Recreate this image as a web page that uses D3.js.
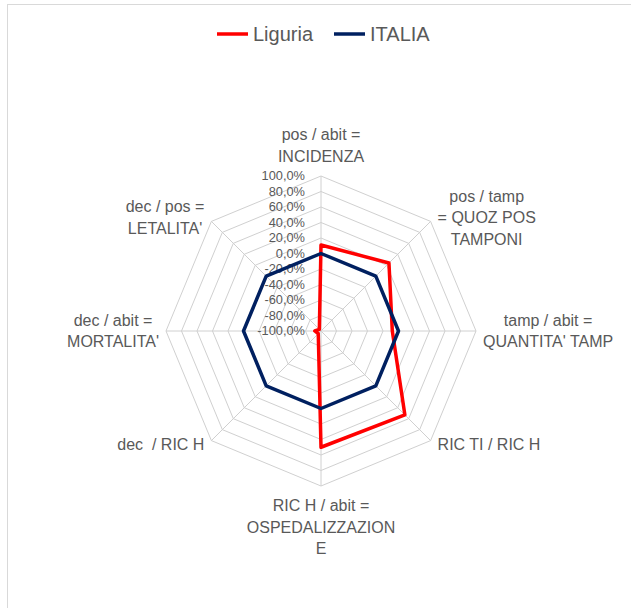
<!DOCTYPE html>
<html>
<head>
<meta charset="utf-8">
<script src="https://cdn.jsdelivr.net/npm/d3@7"></script>
<style>
  html, body { margin: 0; padding: 0; background: #fff; }
  svg { display: block; font-family: "Liberation Sans", Arial, sans-serif; }
  text { white-space: pre; }
</style>
</head>
<body>
<svg id="chart" width="631" height="608"></svg>
<script>
'use strict';

// categories (already wrapped the way the chart shows them)
var categories = [
  ["pos / abit =", "INCIDENZA"],
  ["pos / tamp", "= QUOZ POS", "TAMPONI"],
  ["tamp / abit =", "QUANTITA' TAMP"],
  ["RIC TI / RIC H"],
  ["RIC H / abit =", "OSPEDALIZZAZION", "E"],
  ["dec  / RIC H"],
  ["dec / abit =", "MORTALITA'"],
  ["dec / pos =", "LETALITA'"]
];
var liguria = [0.11, 0.24, -0.08, 0.53, 0.50, -0.95, -0.92, -0.97];
var italia  = [0, 0, 0, 0, 0, 0, 0, 0];
var seriesNames = ["Liguria", "ITALIA"];
var tickValues = [-1, -0.8, -0.6, -0.4, -0.2, 0, 0.2, 0.4, 0.6, 0.8, 1];

var colors = { Liguria: "#ff0000", ITALIA: "#002060" };
var cx = 321, cy = 331, R = 155;

var svg = d3.select("#chart");

// chart area border
svg.append("rect")
   .attr("x", 7.5).attr("y", 4.5)
   .attr("width", 640).attr("height", 620)
   .attr("fill", "#fff")
   .attr("stroke", "#d9d9d9");

var r = d3.scaleLinear().domain([-1, 1]).range([0, R]);
var step = 2 * Math.PI / categories.length;
var angle = function(i) { return i * step; };

var g = svg.append("g").attr("transform", "translate(" + cx + "," + cy + ")");

var radial = d3.lineRadial()
  .angle(function(d, i) { return angle(i); })
  .radius(function(d) { return r(d); })
  .curve(d3.curveLinearClosed);

// rings
g.selectAll("path.ring")
 .data(tickValues.filter(function(v) { return v > -1; }))
 .enter().append("path")
 .attr("class", "ring")
 .attr("d", function(v) { return radial(categories.map(function() { return v; })); })
 .attr("fill", "none")
 .attr("stroke", "#d0d0d0")
 .attr("stroke-width", 1);

// spokes
g.selectAll("line.spoke")
 .data(categories)
 .enter().append("line")
 .attr("class", "spoke")
 .attr("x1", 0).attr("y1", 0)
 .attr("x2", function(d, i) { return r(1) * Math.sin(angle(i)); })
 .attr("y2", function(d, i) { return -r(1) * Math.cos(angle(i)); })
 .attr("stroke", "#d0d0d0")
 .attr("stroke-width", 1);

// tick labels on the top axis
var fmt = function(v) { return d3.format(".1f")(v * 100).replace(".", ",").replace("−", "-") + "%"; };
g.selectAll("text.tick")
 .data(tickValues)
 .enter().append("text")
 .attr("class", "tick")
 .attr("x", -16)
 .attr("y", function(v) { return -r(v); })
 .attr("dy", "0.35em")
 .attr("text-anchor", "end")
 .attr("font-size", "12.8px")
 .attr("fill", "#595959")
 .text(fmt);

// series
var series = [
  { name: "Liguria", values: liguria },
  { name: "ITALIA", values: italia }
];
g.selectAll("path.series")
 .data(series)
 .enter().append("path")
 .attr("class", "series")
 .attr("d", function(d) { return radial(d.values); })
 .attr("fill", "none")
 .attr("stroke", function(d) { return colors[d.name]; })
 .attr("stroke-width", 3.5)
 .attr("stroke-linejoin", "round");

// category labels
var lineH = 21.5, pad = 7;
categories.forEach(function(lines, i) {
  var a = angle(i);
  var sx = Math.sin(a), sy = -Math.cos(a);
  var vx = r(1) * sx, vy = r(1) * sy;
  var anchor, x, yTop;
  var n = lines.length, h = n * lineH;
  if (Math.abs(sx) < 1e-6) {
    anchor = "middle"; x = 0;
    yTop = sy < 0 ? vy - 9 - h : vy + 9;
  } else {
    anchor = sx > 0 ? "start" : "end";
    x = vx + (sx > 0 ? pad : -pad);
    yTop = vy - h / 2 + (sy > 0.1 ? 4 : (sy < -0.1 ? -4 : 0));
  }
  var t = g.append("text")
    .attr("text-anchor", anchor)
    .attr("font-size", "16px")
    .attr("fill", "#595959");
  lines.forEach(function(s, k) {
    t.append("tspan")
     .attr("x", x)
     .attr("y", yTop + k * lineH + lineH / 2)
     .attr("dy", "0.35em")
     .text(s);
  });
  // center multi-line blocks on their widest line for side labels
  if (anchor !== "middle" && n > 1) {
    var w = t.node().getBBox().width;
    t.attr("text-anchor", "middle");
    t.selectAll("tspan").attr("x", sx > 0 ? x + w / 2 : x - w / 2);
  }
});

// legend
var legend = svg.append("g");
var legendX = [217, 334];
series.forEach(function(s, i) {
  var lg = legend.append("g").attr("transform", "translate(" + legendX[i] + ",34)");
  lg.append("line")
    .attr("x1", 0).attr("x2", 31).attr("y1", 0).attr("y2", 0)
    .attr("stroke", colors[s.name]).attr("stroke-width", 3.5);
  lg.append("text")
    .attr("x", 36).attr("dy", "0.35em")
    .attr("font-size", "20px")
    .attr("fill", "#595959")
    .text(s.name);
});
</script>
</body>
</html>
